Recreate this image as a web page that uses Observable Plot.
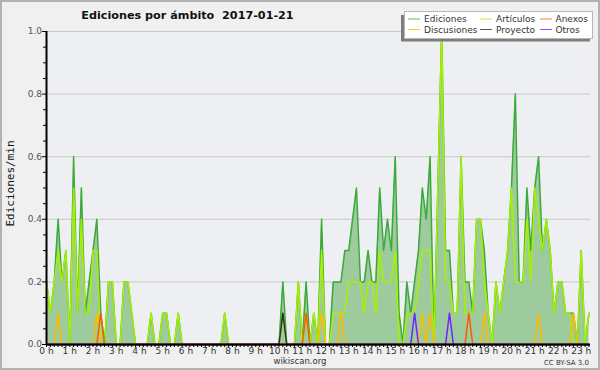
<!DOCTYPE html>
<html>
<head>
<meta charset="utf-8">
<script src="https://cdn.jsdelivr.net/npm/d3@7"></script>
<script src="https://cdn.jsdelivr.net/npm/@observablehq/plot@0.6"></script>
<style>
html, body { margin: 0; padding: 0; background: #f0f0f0; }
#chart svg { display: block; outline: 2px solid #b2b2b2; outline-offset: -2px; }
</style>
</head>
<body>
<div id="chart"></div>
<script>
// ---- texts ----
const title = "Ediciones por ámbito\u00a0\u00a02017-01-21";
const yLabel = "Ediciones/min";
const footerSite = "wikiscan.org";
const footerLicense = "CC BY-SA 3.0";

// ---- axes ----
const hourLabels = ["0 h","1 h","2 h","3 h","4 h","5 h","6 h","7 h","8 h","9 h","10 h","11 h",
  "12 h","13 h","14 h","15 h","16 h","17 h","18 h","19 h","20 h","21 h","22 h","23 h"];
const yTickValues = [0, 0.2, 0.4, 0.6, 0.8, 1.0];
const yTickLabels = ["0.0", "0.2", "0.4", "0.6", "0.8", "1.0"];
const yMinorTicks = [0.05, 0.1, 0.15, 0.25, 0.3, 0.35, 0.45, 0.5, 0.55, 0.65, 0.7, 0.75, 0.85, 0.9, 0.95];
const stepMinutes = 10;

// ---- series (edits per minute, 10-minute slots from 00:00) ----
const ediciones = [
  .2,.1,.2,.4,.2,.3,  0,.6,.1,.5,.1,.2,   // 0h-1h
  .3,.4,.1,0,.2,.2,   0,0,.2,.2,.1,0,     // 2h-3h
  0,0,0,.1,0,0,       .1,.1,0,0,.1,0,     // 4h-5h
  0,0,0,0,0,0,        0,0,0,0,.1,0,       // 6h-7h
  0,0,0,0,0,0,        0,0,0,0,0,0,        // 8h-9h
  0,.2,0,0,0,.2,      0,.2,0,.1,0,.4,     // 10h-11h
  0,0,.2,.2,.2,.3,    .3,.4,.5,.2,.2,.3,  // 12h-13h
  .2,.2,.5,.3,.4,.3,  .6,.1,0,.2,.1,.2,   // 14h-15h
  .3,.5,.4,.6,0,.5,   1,.3,.3,.1,.1,.6,   // 16h-17h
  .2,.2,.1,.4,.4,.3,  .1,0,.2,.1,.2,.3,   // 18h-19h
  .5,.8,.2,.2,.5,.3,  .5,.6,.3,.4,.3,.1,  // 20h-21h
  .2,.2,.1,.1,.1,0,   .3,0,.1             // 22h-23h
];
const articulos = [
  .2,.1,.2,.3,.2,.3,  0,.5,.1,.4,.1,.1,
  .3,.3,0,0,.2,.2,    0,0,.2,.2,.1,0,
  0,0,0,.1,0,0,       .1,.1,0,0,.1,0,
  0,0,0,0,0,0,        0,0,0,0,.1,0,
  0,0,0,0,0,0,        0,0,0,0,0,0,
  0,.1,0,0,0,.2,      0,.1,0,.1,0,.3,
  0,0,.1,.1,.1,.1,    .2,.2,.2,.2,.1,.2,
  .2,.1,.3,.2,.2,.2,  .3,0,0,.1,.1,.1,
  .2,.3,.3,.3,0,.5,   1,.2,.2,.1,.1,.6,
  .1,.1,.1,.4,.4,.2,  .1,0,.2,.1,.2,.3,
  .5,.2,.2,.2,.4,.2,  .5,.4,.3,.4,.3,.1,
  .2,.2,.1,.1,0,0,    .3,0,.1
];
// sparse series: [slot time, edits/min]; all other slots are 0
const discusiones = [["00:30",.1],["02:10",.1],["11:50",.1],["12:40",.1],["16:10",.1],
  ["16:30",.1],["18:50",.1],["21:10",.1],["22:40",.1]];
const anexos = [["02:20",.1],["11:10",.1],["18:10",.1]];
const proyecto = [["10:10",.1]];
const otros = [["15:50",.1],["17:20",.1]];

// ---- styling ----
const seriesNames = ["Ediciones", "Artículos", "Anexos", "Discusiones", "Proyecto", "Otros"];
const seriesColors = ["#3aaa3a", "#a6f000", "#ff5a00", "#ffbb00", "#2e2e2e", "#7422ff"];
const drawOrder = ["Ediciones", "Artículos", "Discusiones", "Anexos", "Proyecto", "Otros"];
const colorOf = Object.fromEntries(seriesNames.map((n, i) => [n, seriesColors[i]]));

// ---- build table ----
const slotOf = hhmm => { const [h, m] = hhmm.split(":").map(Number); return (h * 60 + m) / stepMinutes; };
function expand(peaks) {
  const a = ediciones.map(() => 0);
  for (const [t, v] of peaks) a[slotOf(t)] = v;
  return a;
}
const cols = {
  "Ediciones": ediciones,
  "Artículos": articulos,
  "Discusiones": expand(discusiones),
  "Anexos": expand(anexos),
  "Proyecto": expand(proyecto),
  "Otros": expand(otros)
};
const rows = ediciones.map((_, i) => {
  const r = {t: i * stepMinutes};
  for (const n of seriesNames) r[n] = cols[n][i];
  return r;
});
const hourTicks = hourLabels.map((_, i) => i * 60);
const xMinorTicks = ediciones.map((_, i) => i * stepMinutes).filter(t => t % 60 !== 0);

const lines = drawOrder.map(n => Plot.lineY(rows, {
  x: "t", y: n, stroke: colorOf[n], strokeWidth: 1.5, curve: "linear"
}));

const svg = Plot.plot({
  width: 600, height: 370,
  marginLeft: 46, marginRight: 10, marginTop: 31, marginBottom: 26,
  style: {fontFamily: "'DejaVu Sans', sans-serif", fontSize: "9px", background: "#f0f0f0", color: "#333", overflow: "visible"},
  x: {domain: [0, 1404], axis: null, label: null},
  y: {domain: [0, 1], axis: null, label: null},
  marks: [
    Plot.frame({fill: "#eeeff2", stroke: "none"}),
    Plot.gridY(yTickValues.slice(1), {stroke: "#c9c9c9", strokeOpacity: 1}),
    Plot.areaY(rows, {x: "t", y: "Ediciones", fill: "#9ecb9e", fillOpacity: 1, curve: "linear"}),
    ...lines,
    Plot.axisY(yMinorTicks, {tickSize: 3, tickFormat: () => "", stroke: "#000", label: null}),
    Plot.axisY(yTickValues, {tickSize: 4, tickPadding: 0.5, stroke: "#000", fill: "#555", label: null,
      tickFormat: d => yTickLabels[yTickValues.indexOf(d)]}),
    Plot.axisX(xMinorTicks, {tickSize: 3, tickFormat: () => "", stroke: "#000", label: null}),
    Plot.axisX(hourTicks, {tickSize: 3, tickPadding: 0.5, stroke: "#000", fill: "#333", label: null,
      tickFormat: d => hourLabels[hourTicks.indexOf(d)]}),
    Plot.ruleX([0], {stroke: "#000", strokeWidth: 2}),
    Plot.ruleY([0], {stroke: "#000", strokeWidth: 2})
  ]
});
document.getElementById("chart").appendChild(svg);

// ---- decorations: title, y label, legend, footer ----
const s = d3.select(svg);
s.append("text")
  .attr("x", 187.5).attr("y", 18.5).attr("text-anchor", "middle")
  .attr("font-family", "'DejaVu Sans', sans-serif").attr("font-weight", "bold").attr("font-size", 11.2)
  .attr("fill", "#111").text(title);
s.append("text")
  .attr("transform", "translate(13.5,183.5) rotate(-90)").attr("text-anchor", "middle")
  .attr("font-family", "'DejaVu Sans Mono', monospace").attr("font-size", 11)
  .attr("fill", "#111").text(yLabel);

const lg = s.append("g");
lg.append("rect").attr("x", 401).attr("y", 15).attr("width", 189).attr("height", 26.5).attr("fill", "#7d7d7d");
lg.append("rect").attr("x", 404.5).attr("y", 11.5).attr("width", 188).attr("height", 27)
  .attr("fill", "#fff").attr("stroke", "#b8b8b8");
const colX = [408, 480, 540];
const colTextX = [424, 496, 555.5];
const rowY = [19, 29.5];
seriesNames.forEach((n, k) => {
  const c = k % 3, r = Math.floor(k / 3);
  lg.append("line").attr("x1", colX[c]).attr("x2", colX[c] + 12)
    .attr("y1", rowY[r]).attr("y2", rowY[r])
    .attr("stroke", colorOf[n]).attr("stroke-opacity", 0.8).attr("stroke-width", 1);
  lg.append("text").attr("x", colTextX[c]).attr("y", rowY[r] + 3.2).attr("text-anchor", "start")
    .attr("font-family", "'DejaVu Sans', sans-serif").attr("font-size", 9)
    .attr("fill", "#333").text(n);
});

s.append("text").attr("x", 300).attr("y", 363.5).attr("text-anchor", "middle")
  .attr("font-family", "'DejaVu Sans', sans-serif").attr("font-size", 8.5)
  .attr("fill", "#333").text(footerSite);
s.append("text").attr("x", 589).attr("y", 365).attr("text-anchor", "end")
  .attr("font-family", "'DejaVu Sans', sans-serif").attr("font-size", 7)
  .attr("fill", "#333").text(footerLicense);
</script>
</body>
</html>
